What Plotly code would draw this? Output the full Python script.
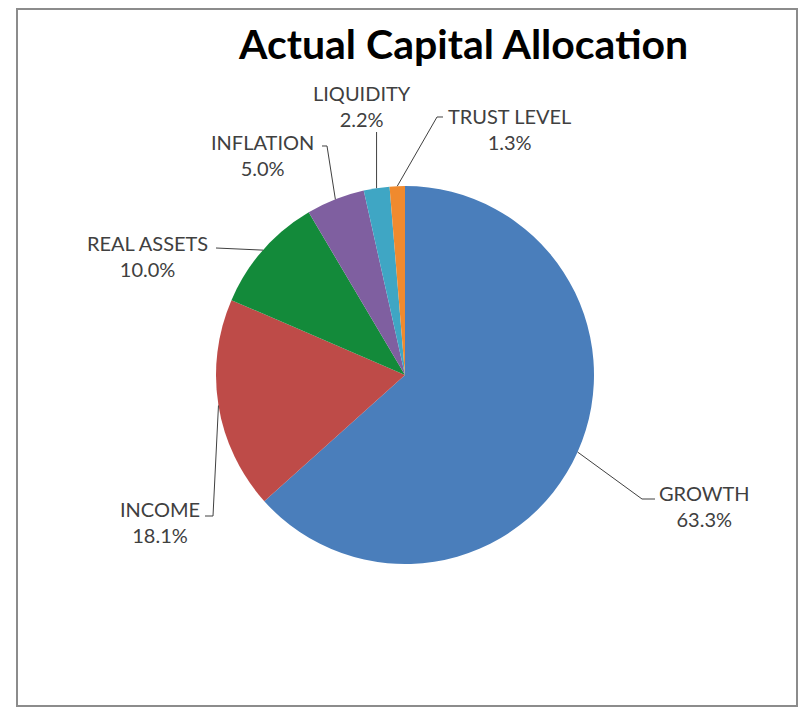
import math
import plotly.graph_objects as go

labels = ["GROWTH", "INCOME", "REAL ASSETS", "INFLATION", "LIQUIDITY", "TRUST LEVEL"]
values = [63.3, 18.1, 10.0, 5.0, 2.2, 1.3]
colors = ["#4A7EBB", "#BE4B48", "#138A3A", "#7F5FA0", "#3FA6C4", "#F08A2E"]

W, H = 800, 709
CX, CY, R = 405, 375, 189

# label text centre positions (pixels) and elbow/attach points for leader lines
label_pos = {
    "GROWTH": (704, 506),
    "INCOME": (160, 522),
    "REAL ASSETS": (147, 256),
    "INFLATION": (262, 155),
    "LIQUIDITY": (362, 106),
    "TRUST LEVEL": (510, 129),
}
leader = {
    "GROWTH": [(642, 499), (655, 499)],
    "INCOME": [(213, 516), (205, 516)],
    "REAL ASSETS": [(216, 248)],
    "INFLATION": [(327, 146), (322, 146)],
    "LIQUIDITY": [],
    "TRUST LEVEL": [(437, 117), (443, 117)],
}


def px(x):
    return x / W


def py(y):
    return 1 - y / H


fig = go.Figure()
fig.add_trace(go.Pie(
    labels=labels,
    values=values,
    sort=False,
    direction="clockwise",
    rotation=0,
    marker=dict(colors=colors, line=dict(width=0)),
    textinfo="none",
    hoverinfo="label+percent",
    showlegend=False,
    domain=dict(x=[px(CX - R), px(CX + R)], y=[py(CY + R), py(CY - R)]),
))

total = sum(values)
cum = 0.0
shapes = []
annotations = []
for lab, v in zip(labels, values):
    mid = (cum + v / 2) / total * 2 * math.pi
    cum += v
    sx = CX + R * math.sin(mid)
    sy = CY - R * math.cos(mid)
    pts = [(sx, sy)]
    if lab == "LIQUIDITY":
        pts.append((sx, 132))
    else:
        pts += leader[lab]
    path = "M " + " L ".join(f"{px(x):.5f},{py(y):.5f}" for x, y in pts)
    shapes.append(dict(type="path", xref="paper", yref="paper", path=path,
                       line=dict(color="#404040", width=1)))
    lx, ly = label_pos[lab]
    annotations.append(dict(
        x=px(lx), y=py(ly), xref="paper", yref="paper",
        text=f"{lab}<br>{v:.1f}%", showarrow=False,
        font=dict(family="Lato, 'Open Sans', sans-serif", size=20, color="#404040"),
        align="center", xanchor="center", yanchor="middle",
    ))

# outer frame
shapes.append(dict(type="rect", xref="paper", yref="paper",
                   x0=px(17), x1=px(797), y0=py(706), y1=py(9),
                   line=dict(color="#8C8C8C", width=2), fillcolor="rgba(0,0,0,0)"))

annotations.append(dict(
    x=px(463), y=py(43), xref="paper", yref="paper",
    text="<b>Actual Capital Allocation</b>", showarrow=False,
    font=dict(family="Lato, 'Open Sans', sans-serif", size=41, color="#000000"),
    xanchor="center", yanchor="middle",
))

fig.update_layout(
    width=W, height=H,
    margin=dict(l=0, r=0, t=0, b=0),
    paper_bgcolor="white", plot_bgcolor="white",
    shapes=shapes, annotations=annotations,
)

fig.write_html("out.html")
